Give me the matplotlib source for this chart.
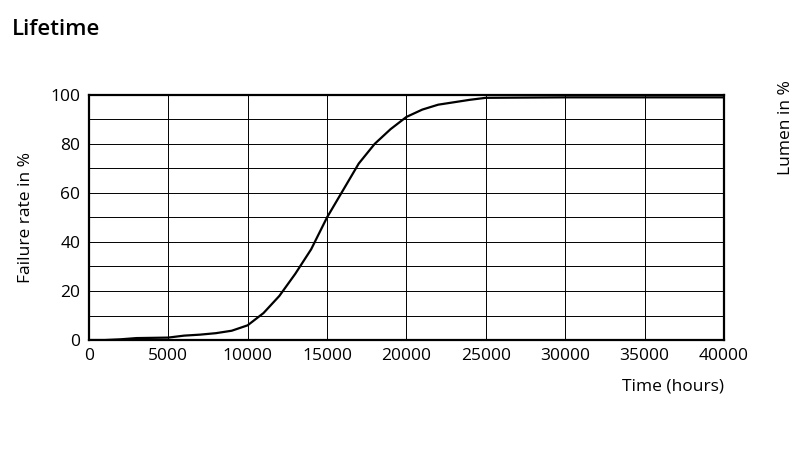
import matplotlib.pyplot as plt

# Lifetime failure curve
hours = [0, 1000, 2000, 3000, 4000, 5000, 6000, 7000, 8000, 9000, 10000, 11000,
         12000, 13000, 14000, 15000, 16000, 17000, 18000, 19000, 20000, 21000,
         22000, 23000, 24000, 25000, 30000, 35000, 40000]
failure = [0, 0, 0.3, 0.8, 0.9, 1.0, 1.8, 2.2, 2.8, 3.8, 6, 11,
           18, 27, 37, 50, 61, 72, 80, 86, 91, 94,
           96, 97, 98, 98.8, 99, 99, 99]

plt.rcParams["font.family"] = "Open Sans"

fig = plt.figure(figsize=(8, 4.54), dpi=100)
ax = fig.add_axes([0.111, 0.251, 0.794, 0.540])

ax.plot(hours, failure, color="black", lw=1.6)
ax.set_xlim(0, 40000)
ax.set_ylim(0, 100)
ax.set_xticks(range(0, 40001, 5000))
ax.set_yticks(range(0, 101, 20))
ax.set_yticks(range(0, 101, 10), minor=True)
ax.grid(True, which="both", color="black", lw=0.7)
ax.tick_params(which="both", length=0, labelsize=12.5, pad=6)
for s in ax.spines.values():
    s.set_linewidth(1.6)

ax.set_ylabel("Failure rate in %", fontsize=12.5, labelpad=12)
ax.set_xlabel("Time (hours)", fontsize=12.5, loc="right", labelpad=10)

fig.text(0.015, 0.935, "Lifetime", fontsize=16, fontweight="semibold", va="center")
fig.text(0.972, 0.72, "Lumen in %", fontsize=12.5, rotation=90, va="center")

fig.savefig("out.png")
